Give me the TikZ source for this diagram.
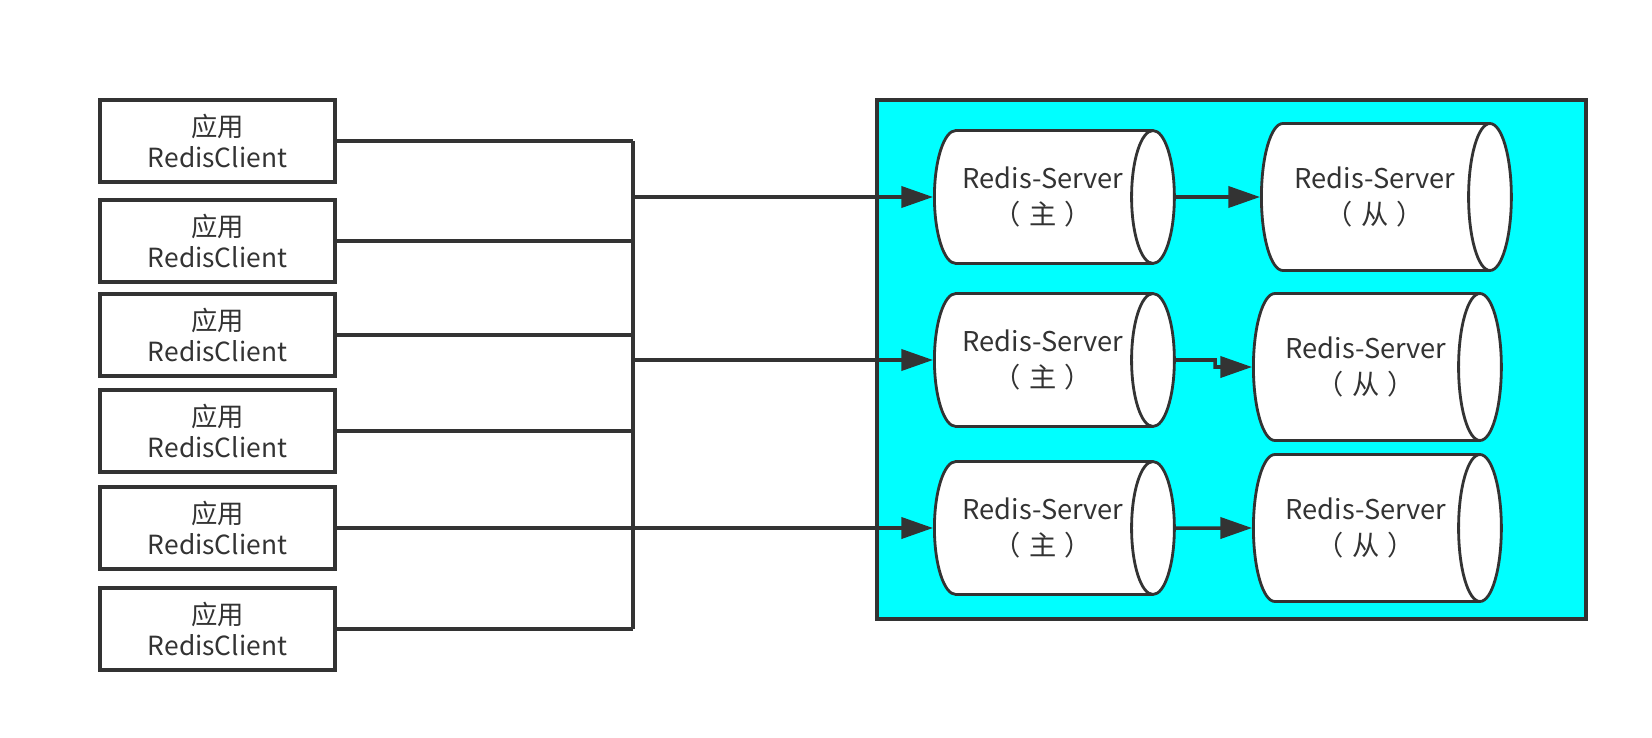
\documentclass[tikz,border=0pt]{standalone}
\usepackage{fontspec}
\setmainfont{Noto Sans CJK SC}
\usetikzlibrary{shapes.geometric,arrows.meta}
\definecolor{edge}{HTML}{333333}
\definecolor{pool}{HTML}{00FFFF}
\newcommand{\role}[1]{（\kern.3em#1\kern.3em）}
\tikzset{
  client/.style={draw=edge,line width=2pt,fill=white,minimum width=4.7cm,minimum height=1.64cm,
    align=center,inner sep=0pt,text=edge,font=\fontsize{15}{18}\selectfont},
  server/.style={cylinder,draw=edge,line width=1.6pt,fill=white,aspect=0.72,align=center,
    inner sep=0pt,text=edge,font=\fontsize{15.5}{20}\selectfont},
  link/.style={draw=edge,line width=2pt},
  arrow/.style={link,-{Triangle[length=18pt,width=12pt]}},
}
\begin{document}
\begin{tikzpicture}[x=0.02cm,y=-0.02cm]
\useasboundingbox (0,0) rectangle (1652,737);
%\draw[step=100,gray,very thin] (0,0) grid (1652,737);
\draw[draw=edge,line width=2pt,fill=pool] (877,100) rectangle (1586,619);
\node[client] (c1) at (217.5,141) {应用\\RedisClient};
\node[client] (c2) at (217.5,241) {应用\\RedisClient};
\node[client] (c3) at (217.5,335) {应用\\RedisClient};
\node[client] (c4) at (217.5,431) {应用\\RedisClient};
\node[client] (c5) at (217.5,528) {应用\\RedisClient};
\node[client] (c6) at (217.5,629) {应用\\RedisClient};
\coordinate (trunk) at (633,0);
\node[server,anchor=west,minimum height=4.8cm,minimum width=2.66cm] (m1) at (933,197) {Redis-Server\\\role{主}};
\node[server,anchor=west,minimum height=4.8cm,minimum width=2.66cm] (m2) at (933,360) {Redis-Server\\\role{主}};
\node[server,anchor=west,minimum height=4.8cm,minimum width=2.66cm] (m3) at (933,528) {Redis-Server\\\role{主}};
\node[server,anchor=west,minimum height=5cm,minimum width=2.94cm] (s1) at (1260,197) {Redis-Server\\\role{从}};
\node[server,anchor=west,minimum height=4.96cm,minimum width=2.94cm] (s2) at (1252,367) {Redis-Server\\\role{从}};
\node[server,anchor=west,minimum height=4.96cm,minimum width=2.94cm] (s3) at (1252,528) {Redis-Server\\\role{从}};
\coordinate (kink) at (1215,360);
% clients to trunk
\draw[link] (c1.east) -- (c1.east -| trunk);
\draw[link] (c2.east) -- (c2.east -| trunk);
\draw[link] (c3.east) -- (c3.east -| trunk);
\draw[link] (c4.east) -- (c4.east -| trunk);
\draw[link] (c6.east) -- (c6.east -| trunk);
\draw[link] (c1.east -| trunk) -- (c6.east -| trunk);
% trunk to masters
\draw[arrow] (m1.west -| trunk) -- (m1.west);
\draw[arrow] (m2.west -| trunk) -- (m2.west);
\draw[arrow] (c5.east) -- (m3.west);
% masters to slaves
\draw[arrow] (m1.east) -- (s1.west);
\draw[arrow] (m2.east) -- (kink) |- (s2.west);
\draw[arrow] (m3.east) -- (s3.west);
\end{tikzpicture}
\end{document}
